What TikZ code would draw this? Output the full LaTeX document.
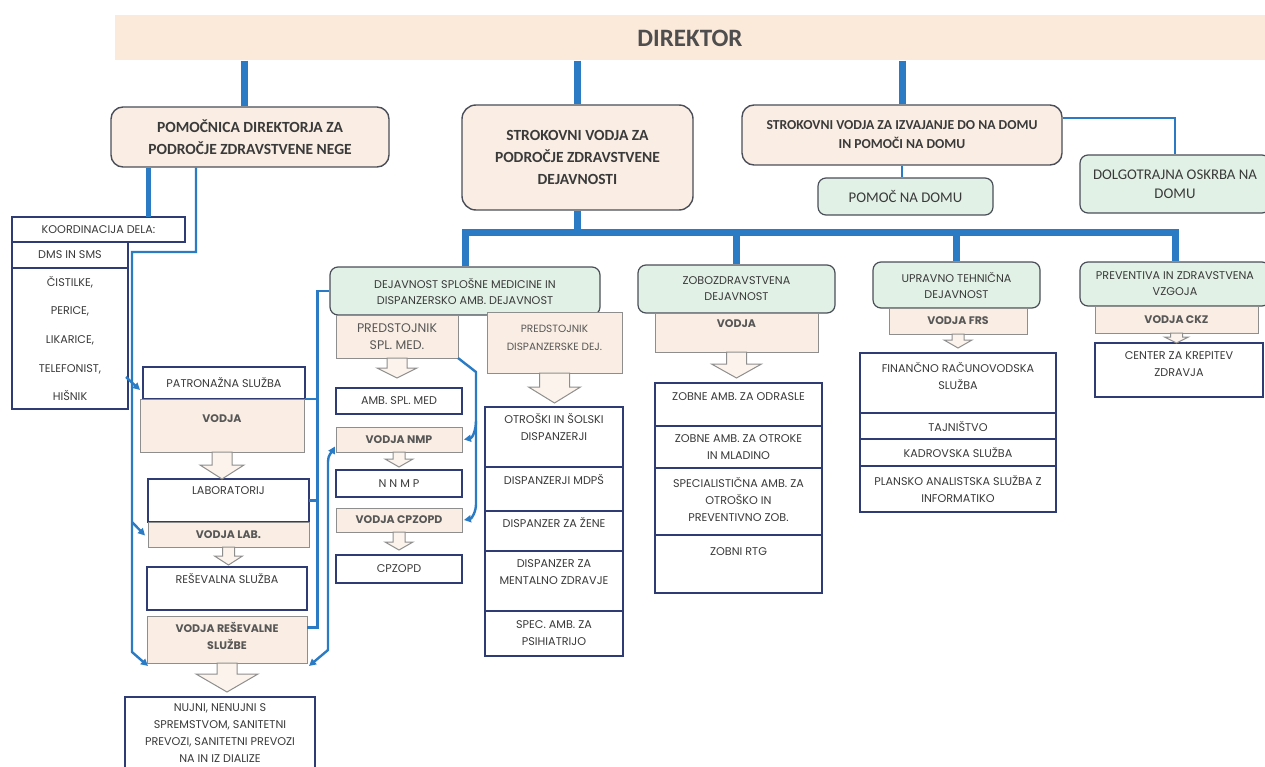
\documentclass[tikz,border=0pt]{standalone}
\usepackage{fontspec}
\setmainfont{Poppins}
\newfontfamily\headfont{Carlito}
\usetikzlibrary{positioning, calc, arrows.meta}

\definecolor{orgblue}{HTML}{2A7BC3}
\definecolor{peach}{HTML}{FAEEE4}
\definecolor{bandc}{HTML}{FBE9D9}
\definecolor{mint}{HTML}{E2F1E6}
\definecolor{boxline}{HTML}{4A4E58}
\definecolor{navyline}{HTML}{2F3C73}
\definecolor{greyline}{HTML}{8E8E8E}
\definecolor{txt}{HTML}{3A3A3A}

\tikzstyle{band} = [rectangle, fill=bandc, minimum width=1150pt, minimum height=45pt, text=txt!90, font=\headfont\bfseries\fontsize{25}{28}\selectfont]
\tikzstyle{head} = [rectangle, rounded corners=12pt, draw=boxline, line width=1.4pt, fill=peach, text=txt, align=center, inner sep=0pt, font=\headfont\bfseries\fontsize{15.5}{22}\selectfont]
\tikzstyle{unit} = [rectangle, rounded corners=8pt, draw=boxline, line width=1.2pt, fill=mint, text=txt, align=center, inner sep=0pt, font=\fontsize{11.2}{16}\selectfont]
\tikzstyle{lead} = [rectangle, draw=greyline, line width=1pt, fill=peach, text=txt!85, align=center, inner sep=0pt, outer sep=0pt, font=\bfseries\fontsize{11}{17}\selectfont]
\tikzstyle{cell} = [rectangle, draw=navyline, line width=1.2pt, fill=white, text=txt, align=center, inner sep=0pt, outer sep=0pt, font=\fontsize{11.2}{17}\selectfont]
\tikzstyle{conn} = [draw=orgblue, line width=2.4pt]
\tikzstyle{trunk} = [draw=orgblue, line width=7pt]
\tikzstyle{hollow} = [draw=greyline, line width=1pt, fill=peach!70]
\tikzstyle{tip} = [-{Triangle[length=7pt,width=7pt]}]

% from, to, shaft half, head half, head length, gap
\newcommand{\blockarrow}[6]{%
  \draw[hollow] let \p1=(#1.south), \p2=(#2.north) in
    (\x1-#3pt,\y1) -- (\x1-#3pt,\y2+#6pt+#5pt) -- (\x1-#4pt,\y2+#6pt+#5pt) -- (\x1,\y2+#6pt)
    -- (\x1+#4pt,\y2+#6pt+#5pt) -- (\x1+#3pt,\y2+#6pt+#5pt) -- (\x1+#3pt,\y1) -- cycle;}

\begin{document}
\begin{tikzpicture}[x=1pt,y=-1pt]
\useasboundingbox (0,0) rectangle (1265,767);

\node (dir) [band] at (690,38) {DIREKTOR};

% vodstvo
\node (pom) [head, minimum width=278pt, minimum height=60pt] at (250,137) {POMOČNICA DIREKTORJA ZA\\PODROČJE ZDRAVSTVENE NEGE};
\node (sdz) [head, rounded corners=14pt, minimum width=231pt, minimum height=105pt] at (577.5,157.5) {STROKOVNI VODJA ZA\\PODROČJE ZDRAVSTVENE\\DEJAVNOSTI};
\node (sdom) [head, minimum width=320pt, minimum height=60pt, font=\headfont\bfseries\fontsize{13.7}{19}\selectfont] at (902,135) {STROKOVNI VODJA ZA IZVAJANJE DO NA DOMU\\IN POMOČI NA DOMU};
\node (pnd) [unit, minimum width=175pt, minimum height=37pt, font=\headfont\fontsize{14.8}{18}\selectfont] at (905.5,196.5) {POMOČ NA DOMU};
\node (dolg) [unit, minimum width=190pt, minimum height=58pt, font=\headfont\fontsize{14.8}{19}\selectfont] at (1175,184) {DOLGOTRAJNA OSKRBA NA\\DOMU};

\draw[trunk] ([xshift=-6pt]pom.north |- dir.south) -- ([xshift=-6pt]pom.north);
\draw[trunk] (sdz.north |- dir.south) -- (sdz.north);
\draw[trunk] (sdom.north |- dir.south) -- (sdom.north);
\draw[conn] ([yshift=17pt]sdom.east) -| (dolg.north);
\draw[conn] (sdom.south) -- (sdom.south |- pnd.north);

% dejavnosti
\node (spl) [unit, minimum width=270pt, minimum height=48pt] at (465,291) {DEJAVNOST SPLOŠNE MEDICINE IN\\DISPANZERSKO AMB. DEJAVNOST};
\node (zob) [unit, minimum width=197pt, minimum height=48pt] at (736.5,289) {ZOBOZDRAVSTVENA\\DEJAVNOST};
\node (upr) [unit, minimum width=167pt, minimum height=46pt] at (956.5,285) {UPRAVNO TEHNIČNA\\DEJAVNOST};
\node (prev) [unit, minimum width=190pt, minimum height=44pt] at (1175,284) {PREVENTIVA IN ZDRAVSTVENA\\VZGOJA};

\draw[trunk] (sdz.south) -- ++(0,22) coordinate (bar);
\draw[trunk] (spl.north) -- (spl.north |- bar) -- (prev.north |- bar) -- (prev.north);
\draw[trunk] (zob.north |- bar) -- (zob.north);
\draw[trunk] (upr.north |- bar) -- (upr.north);

% splosna medicina
\node (pss) [lead, font=\fontsize{12.5}{17}\selectfont, minimum width=122pt, minimum height=43pt] at (397,336.5) {PREDSTOJNIK\\SPL. MED.};
\node (psd) [lead, font=\fontsize{10.5}{18}\selectfont, minimum width=135pt, minimum height=61pt, text depth=10pt] at (554.5,342.5) {PREDSTOJNIK\\DISPANZERSKE DEJ.};
\node (amb) [cell, minimum width=126pt, minimum height=26pt] at (399,401) {AMB. SPL. MED};
\node (vnmp) [lead, minimum width=126pt, minimum height=25pt] at (399,439.5) {VODJA NMP};
\node (nnmp) [cell, minimum width=126pt, minimum height=27pt] at (399,483.5) {N N M P};
\node (vcpz) [lead, minimum width=126pt, minimum height=24pt] at (399,520) {VODJA CPZOPD};
\node (cpz) [cell, minimum width=126pt, minimum height=28pt] at (399,569) {CPZOPD};

\tikzstyle{dcell} = [cell, minimum width=138pt]
\node (d1) [dcell, minimum height=60pt, text depth=20pt] at (554,437) {OTROŠKI IN ŠOLSKI\\DISPANZERJI};
\node (d2) [dcell, minimum height=44pt, text depth=20pt, below=0pt of d1] {DISPANZERJI MDPŠ};
\node (d3) [dcell, minimum height=40pt, text depth=18pt, below=0pt of d2] {DISPANZER ZA ŽENE};
\node (d4) [dcell, minimum height=60pt, text depth=17pt, below=0pt of d3] {DISPANZER ZA\\MENTALNO ZDRAVJE};
\node (d5) [dcell, minimum height=45pt, below=0pt of d4] {SPEC. AMB. ZA\\PSIHIATRIJO};

\blockarrow{pss}{amb}{10}{20}{10}{10}
\blockarrow{psd}{d1}{15}{26}{16}{4}
\blockarrow{vnmp}{nnmp}{6}{14}{8}{3}
\blockarrow{vcpz}{cpz}{6}{14}{8}{5}

\draw[conn,tip] (pss.south east) -- ++(18,14) coordinate (pr) -- ($(pr |- vcpz.north)+(0,-4)$) to[out=-90,in=10] ($(vcpz.east)+(2,0)$);
\draw[conn,tip] ($(pr |- vnmp.north)+(0,-6)$) to[out=-90,in=10] ($(vnmp.east)+(2,0)$);

% zobozdravstvo
\node (zv) [lead, minimum width=163pt, minimum height=39pt, text depth=17pt] at (736.5,332.5) {VODJA};
\tikzstyle{zcell} = [cell, minimum width=167pt]
\node (z1) [zcell, minimum height=43pt, text depth=15pt] at (738.5,404.5) {ZOBNE AMB. ZA ODRASLE};
\node (z2) [zcell, minimum height=42pt, below=0pt of z1] {ZOBNE AMB. ZA OTROKE\\IN MLADINO};
\node (z3) [zcell, minimum height=67pt, text depth=5pt, below=0pt of z2] {SPECIALISTIČNA AMB. ZA\\OTROŠKO IN\\PREVENTIVNO ZOB.};
\node (z4) [zcell, minimum height=58pt, text depth=24pt, below=0pt of z3] {ZOBNI RTG};
\blockarrow{zv}{z1}{10}{25}{14}{5}

% upravno tehnicna
\node (vfrs) [lead, minimum width=138pt, minimum height=26pt] at (958,321) {VODJA FRS};
\tikzstyle{ucell} = [cell, minimum width=196pt]
\node (u1) [ucell, minimum height=60pt, text depth=14pt] at (958,383) {FINANČNO RAČUNOVODSKA\\SLUŽBA};
\node (u2) [ucell, minimum height=26pt, below=0pt of u1] {TAJNIŠTVO};
\node (u3) [ucell, minimum height=27pt, below=0pt of u2] {KADROVSKA SLUŽBA};
\node (u4) [ucell, minimum height=46pt, below=0pt of u3] {PLANSKO ANALISTSKA SLUŽBA Z\\INFORMATIKO};
\blockarrow{vfrs}{u1}{6}{14}{8}{5}

% preventiva
\node (vckz) [lead, minimum width=163pt, minimum height=27pt] at (1176.5,319.5) {VODJA CKZ};
\node (ckz) [cell, minimum width=168pt, minimum height=54pt, text depth=11pt] at (1179,370) {CENTER ZA KREPITEV\\ZDRAVJA};
\blockarrow{vckz}{ckz}{6}{12}{6}{0}

% zdravstvena nega
\node (koord) [cell, minimum width=173pt, minimum height=25pt] at (98.5,229.5) {KOORDINACIJA DELA:};
\node (dms) [cell, minimum width=116pt, minimum height=26pt] at (70,255) {DMS IN SMS};
\node (list) [cell, minimum width=116pt, minimum height=141pt, font=\fontsize{11.2}{28.7}\selectfont] at (70,338.5) {ČISTILKE,\\PERICE,\\LIKARICE,\\TELEFONIST,\\HIŠNIK};
\node (pat) [cell, minimum width=162pt, minimum height=32pt] at (224,383) {PATRONAŽNA SLUŽBA};
\node (vpat) [lead, minimum width=164pt, minimum height=53pt, text depth=13pt] at (222,425.5) {VODJA};
\node (lab) [cell, minimum width=161pt, minimum height=43pt, text depth=19pt] at (228.5,500.5) {LABORATORIJ};
\node (vlab) [lead, minimum width=161pt, minimum height=25pt] at (228.5,534.5) {VODJA LAB.};
\node (res) [cell, minimum width=160pt, minimum height=43pt, text depth=21pt] at (227,588.5) {REŠEVALNA SLUŽBA};
\node (vres) [lead, minimum width=160pt, minimum height=47pt, text depth=7pt] at (227,639.5) {VODJA REŠEVALNE\\SLUŽBE};
\node (nuj) [cell, minimum width=190pt, minimum height=72pt] at (220,733) {NUJNI, NENUJNI S\\SPREMSTVOM, SANITETNI\\PREVOZI, SANITETNI PREVOZI\\NA IN IZ DIALIZE};

\blockarrow{vpat}{lab}{10}{22}{14}{0}
\blockarrow{vlab}{res}{6}{14}{9}{2}
\blockarrow{vres}{nuj}{10}{31}{18}{5}

\draw[trunk, line width=5pt] ([xshift=50pt]koord.north) -- ([xshift=50pt]koord.north |- pom.south);
\coordinate (nb) at (132,252);
\coordinate (ne) at (132,652);
\draw[conn,tip] ([xshift=-54pt]pom.south) |- (nb) -- (ne) -- ($(vres.south west)+(1,3)$);
\draw[conn,tip] ($(nb |- pat.center)+(-6,-6)$) -- ($(pat.west)+(-3,7)$);
\draw[conn,tip] (nb |- vlab.north) -- ($(vlab.west)+(-3,1)$);

\draw[conn] (spl.west) -- ++(-12,0) coordinate (sw) |- ([yshift=12pt]vres.east);
\draw[conn] (sw |- pat.south) -- (pat.south east);
\draw[conn] (sw |- lab.east) -- (lab.east);

\draw[conn,{Triangle[length=7pt,width=7pt]}-{Triangle[length=7pt,width=7pt]}] ($(vnmp.west)+(-1,7)$) to[out=-120,in=90] ($(vnmp.west)+(-8,22)$) -- ($(vres.south east)+(21,-13)$) -- ($(vres.south east)+(2,3)$);

\end{tikzpicture}
\end{document}
